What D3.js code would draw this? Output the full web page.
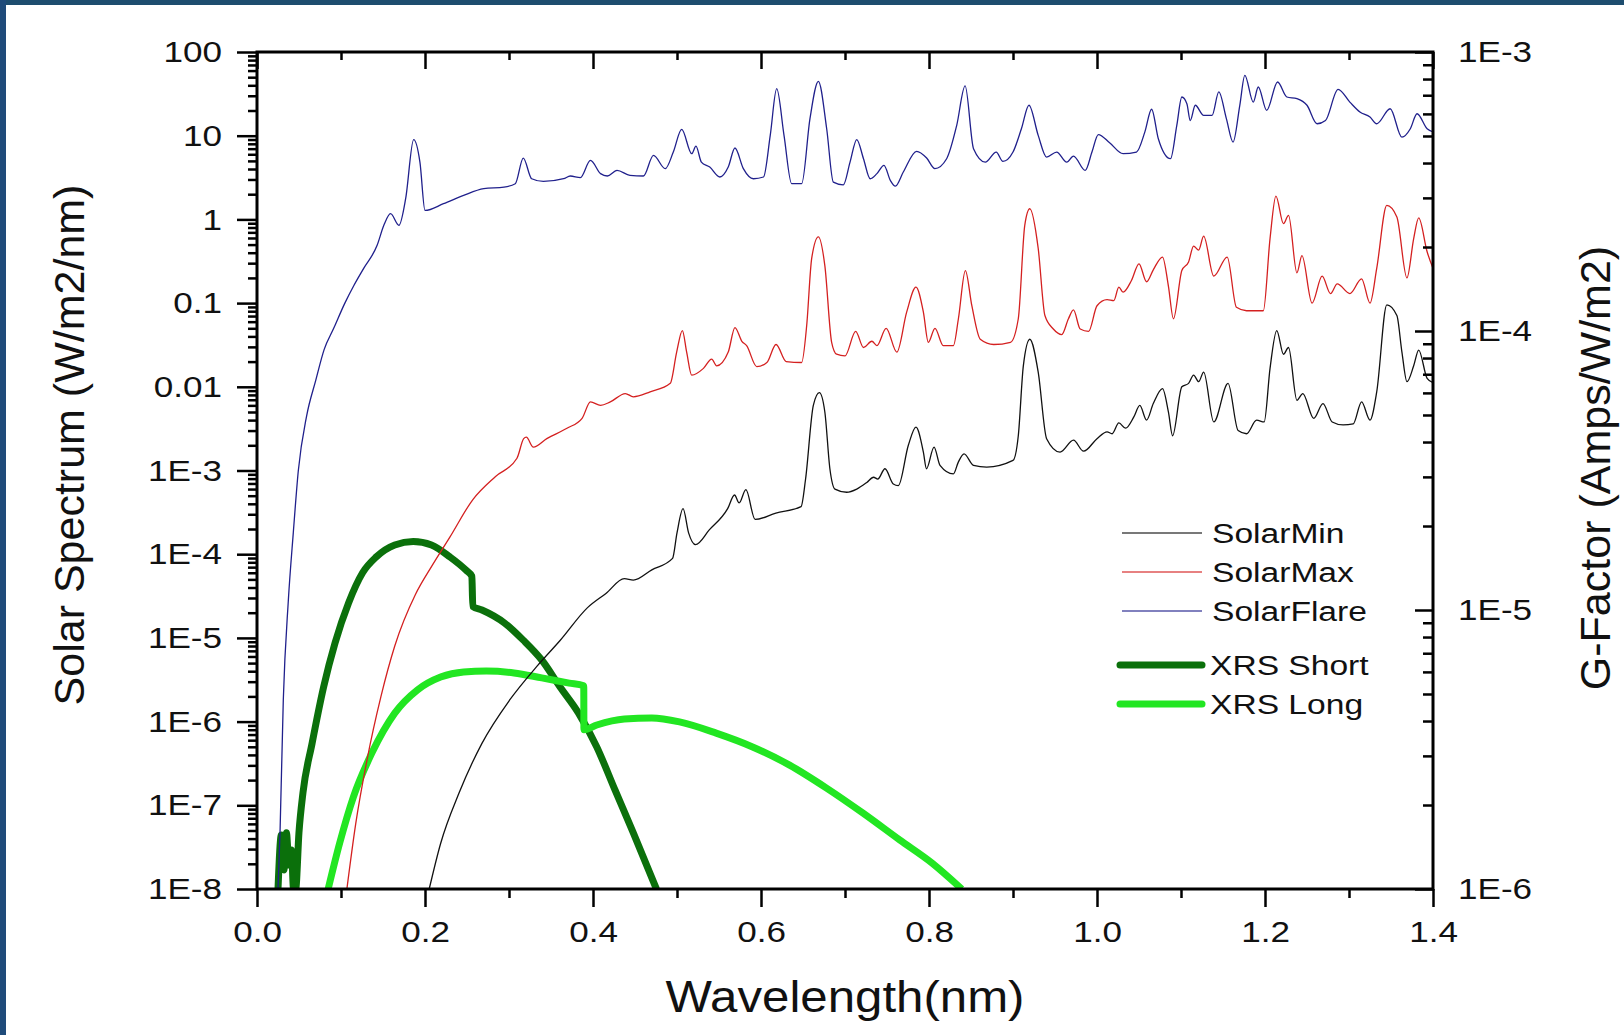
<!DOCTYPE html>
<html>
<head>
<meta charset="utf-8">
<script src="https://cdn.jsdelivr.net/npm/d3@7"></script>
<style>
  body { margin: 0; background: #fff; }
  svg { display: block; }
  text { font-family: "Liberation Sans", Arial, sans-serif; fill: #111; }
</style>
</head>
<body>
<div id="chart"></div>
<script>
// wavelength (nm), irradiance (W/m2/nm)
var solarMin = [
  [0.205, 1e-8], [0.2186, 3.5e-8], [0.2405, 1.4e-7], [0.2678, 5.5e-7], [0.3006, 1.8e-6],
  [0.3334, 4.6e-6], [0.3608, 9.3e-6], [0.3935, 2.3e-5], [0.4154, 3.4e-5], [0.4373, 5.1e-5],
  [0.448, 4.9e-5], [0.470, 6.5e-5], [0.4947, 8.9e-5], [0.500, 1.8e-4], [0.5072, 3.5e-4],
  [0.5138, 1.8e-4], [0.522, 1.3e-4], [0.5384, 1.95e-4], [0.5603, 3.5e-4], [0.5685, 5.1e-4],
  [0.574, 4.1e-4], [0.582, 5.9e-4], [0.593, 2.6e-4], [0.6177, 3.1e-4], [0.6477, 3.7e-4],
  [0.653, 7.8e-4], [0.6623, 6.0e-3], [0.6695, 8.5e-3], [0.676, 5.0e-3], [0.682, 1.05e-3],
  [0.688, 6.0e-4], [0.702, 5.5e-4], [0.714, 6.0e-4], [0.726, 7.2e-4], [0.734, 8.3e-4],
  [0.739, 7.9e-4], [0.7476, 1.05e-3], [0.7575, 6.9e-4], [0.7635, 6.6e-4], [0.7754, 2.0e-3],
  [0.7845, 3.3e-3], [0.7933, 1.66e-3], [0.797, 1.05e-3], [0.806, 1.9e-3], [0.8131, 1.15e-3],
  [0.829, 9.1e-4], [0.8349, 1.26e-3], [0.8417, 1.58e-3], [0.853, 1.15e-3], [0.8687, 1.1e-3],
  [0.900, 1.32e-3], [0.9063, 2.6e-3], [0.9123, 0.0178], [0.920, 0.037], [0.930, 0.015],
  [0.940, 2.4e-3], [0.956, 1.66e-3], [0.972, 2.3e-3], [0.984, 1.7e-3], [1.000, 2.4e-3],
  [1.012, 2.9e-3], [1.018, 2.75e-3], [1.026, 3.7e-3], [1.034, 3.2e-3], [1.044, 4.4e-3],
  [1.051, 6.0e-3], [1.059, 4.0e-3], [1.067, 6.3e-3], [1.078, 9.5e-3], [1.085, 5.0e-3],
  [1.090, 2.6e-3], [1.101, 0.010], [1.109, 0.011], [1.115, 0.0138], [1.121, 0.0115],
  [1.127, 0.015], [1.139, 3.8e-3], [1.156, 0.011], [1.168, 3.0e-3], [1.178, 2.75e-3],
  [1.190, 4.0e-3], [1.199, 3.8e-3], [1.206, 0.0166], [1.214, 0.047], [1.222, 0.0245],
  [1.228, 0.0295], [1.238, 6.9e-3], [1.245, 8.3e-3], [1.258, 4.2e-3], [1.269, 6.3e-3],
  [1.280, 3.8e-3], [1.293, 3.5e-3], [1.305, 3.6e-3], [1.315, 6.6e-3], [1.325, 4.0e-3],
  [1.333, 8.7e-3], [1.345, 0.095], [1.357, 0.071], [1.363, 0.026], [1.369, 0.0115],
  [1.377, 0.0178], [1.383, 0.0275], [1.393, 0.0126], [1.400, 0.0112]
];

var solarMax = [
  [0.107, 1e-8], [0.1175, 6.0e-8], [0.131, 3.5e-7], [0.1476, 2.0e-6], [0.164, 8.0e-6],
  [0.1886, 3.3e-5], [0.2077, 7.1e-5], [0.2296, 1.6e-4], [0.257, 4.5e-4], [0.284, 8.5e-4],
  [0.3095, 1.4e-3], [0.3175, 2.4e-3], [0.3206, 2.5e-3], [0.329, 1.9e-3], [0.345, 2.4e-3],
  [0.369, 3.2e-3], [0.387, 4.2e-3], [0.397, 6.6e-3], [0.409, 6.0e-3], [0.4206, 6.6e-3],
  [0.4385, 8.3e-3], [0.448, 7.6e-3], [0.468, 8.7e-3], [0.492, 0.011], [0.4996, 0.026],
  [0.5064, 0.047], [0.5115, 0.026], [0.5175, 0.0138], [0.5315, 0.0166], [0.5413, 0.0214],
  [0.5472, 0.0178], [0.561, 0.026], [0.569, 0.051], [0.5772, 0.035], [0.5829, 0.031],
  [0.595, 0.0174], [0.607, 0.0195], [0.6179, 0.032], [0.630, 0.020], [0.6484, 0.0195],
  [0.6544, 0.054], [0.6603, 0.34], [0.6683, 0.62], [0.676, 0.28], [0.6841, 0.034],
  [0.690, 0.0245], [0.700, 0.0234], [0.7127, 0.046], [0.722, 0.0295], [0.732, 0.035],
  [0.738, 0.031], [0.749, 0.050], [0.7617, 0.026], [0.7734, 0.078], [0.7845, 0.155],
  [0.7933, 0.078], [0.7992, 0.034], [0.8071, 0.050], [0.817, 0.031], [0.829, 0.031],
  [0.835, 0.065], [0.8433, 0.245], [0.851, 0.093], [0.861, 0.037], [0.877, 0.032],
  [0.897, 0.034], [0.9063, 0.065], [0.914, 0.85], [0.920, 1.34], [0.930, 0.45],
  [0.938, 0.071], [0.948, 0.049], [0.958, 0.042], [0.966, 0.065], [0.972, 0.083],
  [0.980, 0.049], [0.990, 0.046], [1.000, 0.093], [1.012, 0.11], [1.020, 0.107],
  [1.026, 0.155], [1.031, 0.135], [1.041, 0.186], [1.050, 0.295], [1.059, 0.18],
  [1.067, 0.25], [1.078, 0.355], [1.085, 0.16], [1.091, 0.065], [1.101, 0.245],
  [1.109, 0.31], [1.115, 0.48], [1.121, 0.43], [1.127, 0.63], [1.139, 0.21],
  [1.155, 0.355], [1.166, 0.089], [1.178, 0.081], [1.198, 0.081], [1.206, 0.59],
  [1.213, 1.90], [1.222, 0.89], [1.228, 1.12], [1.238, 0.23], [1.244, 0.37],
  [1.256, 0.10], [1.268, 0.21], [1.278, 0.13], [1.286, 0.17], [1.301, 0.13],
  [1.315, 0.195], [1.325, 0.10], [1.333, 0.26], [1.345, 1.47], [1.357, 1.07],
  [1.369, 0.20], [1.377, 0.59], [1.383, 1.04], [1.393, 0.41], [1.400, 0.26]
];

var solarFlare = [
  [0.025, 1e-8], [0.0274, 4.7e-8], [0.0313, 1.8e-6], [0.0373, 2.8e-5], [0.0432, 1.8e-4],
  [0.0492, 1.0e-3], [0.0591, 4.5e-3], [0.070, 0.012], [0.080, 0.028], [0.0913, 0.05],
  [0.1046, 0.1], [0.115, 0.16], [0.127, 0.26], [0.143, 0.49], [0.151, 0.85],
  [0.159, 1.17], [0.169, 0.85], [0.177, 1.78], [0.1865, 9.0], [0.194, 4.8],
  [0.200, 1.28], [0.222, 1.54], [0.246, 1.94], [0.270, 2.33], [0.294, 2.43],
  [0.3075, 2.67], [0.317, 5.4], [0.327, 3.06], [0.341, 2.84], [0.365, 3.06],
  [0.373, 3.30], [0.385, 3.16], [0.397, 5.07], [0.409, 3.52], [0.417, 3.30],
  [0.4286, 3.85], [0.444, 3.36], [0.460, 3.30], [0.472, 5.82], [0.486, 4.04],
  [0.4956, 6.38], [0.5056, 11.9], [0.5175, 6.1], [0.5226, 7.5], [0.529, 4.84],
  [0.539, 4.22], [0.551, 3.21], [0.561, 4.22], [0.569, 7.13], [0.579, 4.04],
  [0.591, 3.06], [0.603, 3.21], [0.611, 10.1], [0.6187, 36.5], [0.6274, 10.1],
  [0.6365, 2.67], [0.6484, 2.67], [0.6583, 16.0], [0.6683, 44.6], [0.6782, 12.1],
  [0.6861, 2.79], [0.698, 2.59], [0.706, 4.84], [0.714, 9.0], [0.722, 5.31],
  [0.730, 3.06], [0.738, 3.52], [0.7464, 4.42], [0.754, 2.92], [0.760, 2.50],
  [0.7694, 3.68], [0.7853, 6.5], [0.7972, 5.41], [0.807, 4.04], [0.821, 5.31],
  [0.833, 13.3], [0.843, 39.3], [0.853, 7.0], [0.867, 4.84], [0.880, 6.38],
  [0.888, 4.93], [0.900, 6.38], [0.910, 12.1], [0.919, 23.1], [0.930, 10.1],
  [0.940, 5.56], [0.952, 6.38], [0.964, 4.84], [0.972, 5.71], [0.986, 3.85],
  [0.994, 6.38], [1.0016, 10.3], [1.015, 8.24], [1.031, 6.1], [1.047, 6.38],
  [1.057, 11.1], [1.065, 20.7], [1.073, 9.2], [1.0875, 5.31], [1.095, 13.3],
  [1.101, 29.0], [1.107, 24.1], [1.111, 15.2], [1.117, 23.1], [1.127, 17.5],
  [1.137, 17.5], [1.145, 33.3], [1.154, 16.0], [1.162, 8.4], [1.170, 23.1],
  [1.176, 52.6], [1.186, 25.2], [1.192, 38.2], [1.202, 20.1], [1.215, 43.8],
  [1.226, 29.0], [1.238, 27.7], [1.250, 23.1], [1.262, 13.9], [1.272, 15.2],
  [1.287, 35.8], [1.301, 25.2], [1.313, 19.2], [1.325, 16.7], [1.333, 13.9],
  [1.349, 21.0], [1.363, 9.6], [1.373, 12.1], [1.381, 18.3], [1.393, 12.1],
  [1.400, 11.1]
];

// G-factor (Amps/W/m2), right axis
var xrsShort = [
  [0.025, 1.0e-6], [0.029, 1.56e-6], [0.032, 1.17e-6], [0.035, 1.59e-6], [0.038, 1.22e-6],
  [0.041, 1.38e-6], [0.0435, 1.0e-6], [0.046, 1.0e-6], [0.050, 1.6e-6], [0.0547, 2.21e-6],
  [0.0656, 3.33e-6], [0.0793, 5.30e-6], [0.0929, 7.62e-6], [0.109, 1.06e-5], [0.1257, 1.36e-5],
  [0.142, 1.55e-5], [0.164, 1.71e-5], [0.186, 1.76e-5], [0.2077, 1.71e-5], [0.2296, 1.55e-5],
  [0.2487, 1.39e-5], [0.2558, 1.32e-5], [0.2569, 1.03e-5], [0.2678, 1.0e-5], [0.295, 8.97e-6],
  [0.317, 7.80e-6], [0.339, 6.62e-6], [0.3608, 5.30e-6], [0.3826, 4.28e-6], [0.4045, 3.23e-6],
  [0.4263, 2.26e-6], [0.448, 1.59e-6], [0.4755, 1.0e-6]
];

var xrsLong = [
  [0.0847, 1.0e-6], [0.0984, 1.46e-6], [0.1148, 2.14e-6], [0.1367, 3.07e-6], [0.164, 4.27e-6],
  [0.191, 5.17e-6], [0.2186, 5.75e-6], [0.246, 6.0e-6], [0.273, 6.04e-6], [0.306, 5.95e-6],
  [0.339, 5.71e-6], [0.3717, 5.47e-6], [0.389, 5.35e-6], [0.3892, 3.72e-6], [0.4045, 3.87e-6],
  [0.4373, 4.07e-6], [0.470, 4.10e-6], [0.503, 3.97e-6], [0.5466, 3.62e-6], [0.590, 3.23e-6],
  [0.634, 2.78e-6], [0.678, 2.30e-6], [0.7215, 1.87e-6], [0.765, 1.50e-6], [0.8035, 1.24e-6],
  [0.839, 1.0e-6]
];

var leftMajor = [1e-8, 1e-7, 1e-6, 1e-5, 1e-4, 1e-3, 0.01, 0.1, 1, 10, 100];
var rightMajor = [1e-6, 1e-5, 1e-4, 1e-3];
var xTicks = [0, 0.1, 0.2, 0.3, 0.4, 0.5, 0.6, 0.7, 0.8, 0.9, 1.0, 1.1, 1.2, 1.3, 1.4];

var width = 1624, height = 1035;
var margin = {top: 52, left: 257, right: 191, bottom: 146};
var w = width - margin.left - margin.right;
var h = height - margin.top - margin.bottom;
var stretch = 1.17;

var svg = d3.select("#chart").append("svg")
  .attr("width", width)
  .attr("height", height);

// dark frame of the original picture
svg.append("rect").attr("x", 0).attr("y", 0).attr("width", width).attr("height", 5).attr("fill", "#1e4d6f");
svg.append("rect").attr("x", 0).attr("y", 0).attr("width", 6).attr("height", height).attr("fill", "#1f4b7a");

var g = svg.append("g").attr("transform", "translate(" + margin.left + "," + margin.top + ")");

var x = d3.scaleLinear().domain([0, 1.4]).range([0, w]);
var y = d3.scaleLog().domain([1e-8, 100]).range([h, 0]);
var y2 = d3.scaleLog().domain([1e-6, 1e-3]).range([h, 0]);

function minors(lo, hi) {
  var out = [];
  for (var e = lo; e < hi; e++)
    for (var m = 2; m <= 9; m++) out.push(m * Math.pow(10, e));
  return out;
}

function fmtLeft(v) {
  var e = Math.round(Math.log10(v));
  if (e >= -2) return e >= 0 ? String(Math.pow(10, e)) : (e == -1 ? "0.1" : "0.01");
  return "1E" + e;
}

g.append("clipPath").attr("id", "clip")
  .append("rect").attr("width", w).attr("height", h);

var series = [
  {name: "SolarMin", data: solarMin, scale: y, color: "#111111", sw: 1.3},
  {name: "SolarMax", data: solarMax, scale: y, color: "#d42020", sw: 1.3},
  {name: "SolarFlare", data: solarFlare, scale: y, color: "#20208c", sw: 1.3},
  {name: "XRS Short", data: xrsShort, scale: y2, color: "#0b700b", sw: 7},
  {name: "XRS Long", data: xrsLong, scale: y2, color: "#22e622", sw: 7}
];

// thick XRS curves underneath, thin spectra on top
var drawOrder = [3, 4, 2, 1, 0];
var plot = g.append("g").attr("clip-path", "url(#clip)");
drawOrder.forEach(function(i) {
  var s = series[i];
  var line = d3.line()
    .x(function(d) { return x(d[0]); })
    .y(function(d) { return s.scale(d[1]); })
    .curve(d3.curveMonotoneX);
  plot.append("path")
    .datum(s.data)
    .attr("d", line)
    .attr("fill", "none")
    .attr("stroke", s.color)
    .attr("stroke-width", s.sw)
    .attr("stroke-linejoin", "round");
});

// axes
function styleAxis(sel) {
  sel.select(".domain").remove();
  sel.selectAll("line").attr("stroke", "#000").attr("stroke-width", 2.5);
}

// left
g.append("g").call(d3.axisLeft(y).tickValues(minors(-8, 2)).tickSize(9).tickFormat("")).call(styleAxis);
var gl = g.append("g").call(d3.axisLeft(y).tickValues(leftMajor).tickSize(20).tickPadding(0).tickFormat(fmtLeft)).call(styleAxis);
gl.selectAll("text")
  .attr("x", -35 / stretch)
  .attr("transform", "scale(" + stretch + ",1)")
  .attr("font-size", 30)
  .attr("fill", "#111");

// right (ticks inward)
g.append("g").attr("transform", "translate(" + w + ",0)")
  .call(d3.axisLeft(y2).tickValues(minors(-6, -3)).tickSize(10).tickFormat("")).call(styleAxis);
var gr = g.append("g").attr("transform", "translate(" + w + ",0)")
  .call(d3.axisRight(y2).tickValues(rightMajor).tickSize(-18).tickFormat(function(v) {
    return "1E" + Math.round(Math.log10(v));
  })).call(styleAxis);
gr.selectAll("text")
  .attr("x", 25 / stretch)
  .attr("transform", "scale(" + stretch + ",1)")
  .attr("font-size", 30)
  .attr("fill", "#111");

// bottom
var gb = g.append("g").attr("transform", "translate(0," + h + ")")
  .call(d3.axisBottom(x).tickValues(xTicks).tickFormat(function(v) {
    return Math.round(v * 10) % 2 == 0 ? d3.format(".1f")(v) : "";
  })).call(styleAxis);
gb.selectAll(".tick line").attr("y2", function(d) { return Math.round(d * 10) % 2 == 0 ? 18 : 9; });
gb.selectAll("text")
  .attr("y", 53)
  .attr("dy", null)
  .attr("transform", "scale(" + stretch + ",1)")
  .attr("font-size", 30)
  .attr("fill", "#111");

// top (ticks inward, no labels)
g.append("g")
  .call(d3.axisBottom(x).tickValues(xTicks).tickFormat("")).call(styleAxis)
  .selectAll(".tick line").attr("y2", function(d) { return Math.round(d * 10) % 2 == 0 ? 17 : 8; });

// frame
g.append("rect")
  .attr("width", w).attr("height", h)
  .attr("fill", "none")
  .attr("stroke", "#000")
  .attr("stroke-width", 3);

// axis titles
svg.append("text")
  .attr("x", 845).attr("y", 1012)
  .attr("text-anchor", "middle")
  .attr("font-size", 45)
  .attr("textLength", 359)
  .attr("lengthAdjust", "spacingAndGlyphs")
  .text("Wavelength(nm)");

svg.append("text")
  .attr("transform", "translate(84,445) rotate(-90)")
  .attr("text-anchor", "middle")
  .attr("font-size", 43)
  .text("Solar Spectrum (W/m2/nm)");

svg.append("text")
  .attr("transform", "translate(1610,468) rotate(-90)")
  .attr("text-anchor", "middle")
  .attr("font-size", 43)
  .text("G-Factor (Amps/W/m2)");

// legend
var legendY = [533, 572, 611, 665, 704];
var legend = svg.append("g");
series.forEach(function(s, i) {
  var thick = s.sw > 2;
  legend.append("line")
    .attr("x1", thick ? 1120 : 1122).attr("x2", 1202)
    .attr("y1", legendY[i]).attr("y2", legendY[i])
    .attr("stroke", s.color)
    .attr("stroke-width", thick ? 7 : 1.3)
    .attr("stroke-linecap", thick ? "round" : "butt")
    .attr("opacity", thick ? 1 : 0.75);
  legend.append("text")
    .attr("x", (thick ? 1210 : 1212) / 1.2)
    .attr("y", legendY[i])
    .attr("dy", "0.36em")
    .attr("transform", "scale(1.2,1)")
    .attr("font-size", 28)
    .text(s.name);
});
</script>
</body>
</html>
